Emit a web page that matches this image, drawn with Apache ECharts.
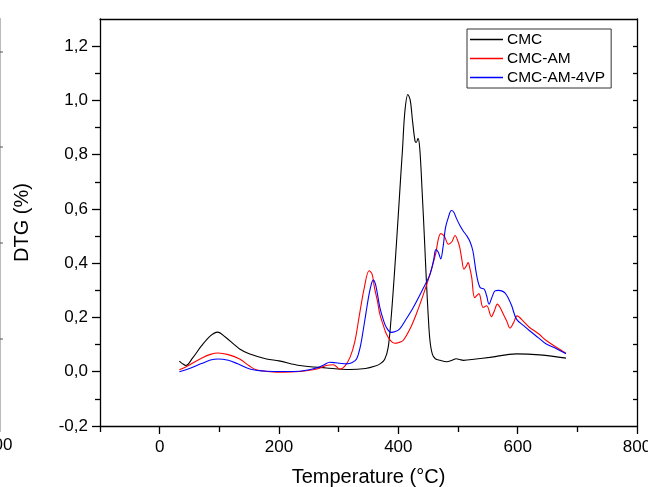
<!DOCTYPE html>
<html>
<head>
<meta charset="utf-8">
<script src="https://cdn.jsdelivr.net/npm/echarts@6/dist/echarts.min.js"></script>
<style>
html,body{margin:0;padding:0;background:#fff;overflow:hidden;}
#c{width:648px;height:487px;}
</style>
</head>
<body>
<div id="c"></div>
<script>
// ---- data ----
var seriesNames = ['CMC', 'CMC-AM', 'CMC-AM-4VP'];

var cmcTemp = [33, 38, 44, 55, 70, 85, 97, 110, 125, 134, 150, 179, 200, 235, 279, 318, 345, 360, 370, 377, 383, 388, 394, 400, 404, 407, 411, 416, 420, 424, 428, 430, 433, 436, 440, 444, 447, 450, 453, 457, 462, 470, 481, 490, 497, 503, 509, 530, 553, 598, 637, 681];
var cmcDtg  = [0.039, 0.03, 0.023, 0.05, 0.095, 0.132, 0.146, 0.128, 0.1, 0.084, 0.066, 0.047, 0.04, 0.023, 0.014, 0.008, 0.012, 0.02, 0.03, 0.045, 0.09, 0.2, 0.38, 0.58, 0.72, 0.82, 0.96, 1.022, 1.0, 0.92, 0.85, 0.845, 0.86, 0.82, 0.66, 0.48, 0.335, 0.21, 0.115, 0.065, 0.048, 0.042, 0.037, 0.042, 0.048, 0.045, 0.042, 0.047, 0.053, 0.066, 0.062, 0.05];

var amTemp = [33, 50, 70, 85, 98, 115, 134, 150, 162, 185, 207, 235, 263, 279, 291, 302, 310, 319, 327, 335, 343, 351, 356, 360, 365, 369, 375, 380, 387, 394, 401, 408, 420, 430, 442, 453, 462, 471, 477, 484, 490, 495, 500, 503, 506, 510, 514, 517, 520, 523, 528, 535, 542, 548, 556, 561, 566, 571, 576, 582, 587, 593, 599, 610, 620, 635, 648, 665, 681];
var amDtg  = [0.007, 0.025, 0.05, 0.064, 0.069, 0.063, 0.047, 0.022, 0.007, 0.0, -0.002, 0.001, 0.01, 0.023, 0.026, 0.01, 0.02, 0.053, 0.11, 0.212, 0.31, 0.372, 0.36, 0.31, 0.26, 0.212, 0.17, 0.139, 0.115, 0.105, 0.108, 0.115, 0.16, 0.212, 0.285, 0.359, 0.43, 0.509, 0.5, 0.47, 0.48, 0.502, 0.48, 0.457, 0.42, 0.378, 0.39, 0.402, 0.38, 0.347, 0.273, 0.288, 0.237, 0.243, 0.203, 0.225, 0.249, 0.235, 0.212, 0.185, 0.161, 0.18, 0.206, 0.185, 0.163, 0.14, 0.115, 0.09, 0.068];

var vpTemp = [33, 50, 70, 85, 98, 115, 130, 151, 179, 210, 235, 263, 275, 285, 295, 302, 313, 322, 330, 336, 341, 346, 351, 355, 358, 362, 369, 375, 380, 388, 395, 402, 412, 425, 440, 453, 459, 463, 467, 471, 475, 479, 484, 489, 493, 497, 503, 509, 515, 520, 525, 531, 537, 544, 548, 552, 557, 562, 568, 573, 579, 584, 590, 598, 610, 620, 635, 648, 665, 681];
var vpDtg  = [0.0, 0.012, 0.03, 0.043, 0.047, 0.042, 0.03, 0.01, 0.002, 0.001, 0.002, 0.014, 0.025, 0.035, 0.033, 0.031, 0.029, 0.033, 0.047, 0.09, 0.151, 0.22, 0.286, 0.325, 0.338, 0.32, 0.237, 0.19, 0.163, 0.145, 0.148, 0.157, 0.19, 0.237, 0.3, 0.359, 0.41, 0.45, 0.44, 0.416, 0.46, 0.53, 0.57, 0.594, 0.588, 0.567, 0.54, 0.518, 0.5, 0.48, 0.445, 0.359, 0.31, 0.304, 0.28, 0.249, 0.275, 0.298, 0.3, 0.298, 0.29, 0.273, 0.243, 0.194, 0.17, 0.151, 0.125, 0.102, 0.085, 0.066];

var xTickLabels = [0, 200, 400, 600, 800];
var xMinorTicks = [-100, 100, 300, 500, 700];
var yTickLabels = [-0.2, 0, 0.2, 0.4, 0.6, 0.8, 1.0, 1.2];
var yMinorTicks = [-0.1, 0.1, 0.3, 0.5, 0.7, 0.9, 1.1];
var yRightTicks = [-0.1, 0, 0.1, 0.2, 0.3, 0.4, 0.5, 0.6, 0.7, 0.8, 0.9, 1.0, 1.1, 1.2];

function pairs(t, v) { return t.map(function (x, i) { return [x, v[i]]; }); }

var FONT = '"Liberation Sans", Arial, sans-serif';
var chart = echarts.init(document.getElementById('c'), null, {renderer: 'canvas'});

var axisLineStyle = {color: '#000', width: 1.3};
function commaFmt(v) { return (Math.round(v * 10) / 10).toFixed(1).replace('.', ','); }

var option = {
  animation: false,
  backgroundColor: '#fff',
  grid: {left: 100, right: 11, top: 19, bottom: 61, containLabel: false, outerBoundsMode: 'none'},
  legend: {
    orient: 'vertical',
    left: 467, top: 29,
    icon: 'rect',
    itemWidth: 33, itemHeight: 1.3, itemGap: 0,
    padding: [1, 6, 1, 3],
    borderColor: '#333', borderWidth: 1,
    textStyle: {fontFamily: FONT, fontSize: 15.5, color: '#000', lineHeight: 19, padding: [0, 0, 0, -1]},
    data: seriesNames
  },
  xAxis: [
    {type: 'value', min: -100, max: 800, position: 'bottom',
      name: 'Temperature (°C)', nameLocation: 'middle', nameGap: 41,
      nameTextStyle: {fontFamily: FONT, fontSize: 20, color: '#000'},
      axisLine: {show: true, onZero: false, lineStyle: axisLineStyle},
      axisTick: {show: true, length: 8, lineStyle: axisLineStyle, customValues: xTickLabels},
      axisLabel: {show: true, margin: 13, fontFamily: FONT, fontSize: 17, color: '#000', customValues: xTickLabels},
      splitLine: {show: false}},
    {type: 'value', min: -100, max: 800, position: 'bottom', gridIndex: 0,
      axisLine: {show: false, onZero: false},
      axisTick: {show: true, length: 6, lineStyle: axisLineStyle, customValues: xMinorTicks},
      axisLabel: {show: false}, splitLine: {show: false}},
    {type: 'value', min: -100, max: 800, position: 'top', gridIndex: 0,
      axisLine: {show: true, onZero: false, lineStyle: axisLineStyle},
      axisTick: {show: false}, axisLabel: {show: false}, splitLine: {show: false}}
  ],
  yAxis: [
    {type: 'value', min: -0.2, max: 1.3, position: 'left',
      name: 'DTG (%)', nameLocation: 'middle', nameGap: 68, nameRotate: 90,
      nameTextStyle: {fontFamily: FONT, fontSize: 20, color: '#000'},
      axisLine: {show: true, onZero: false, lineStyle: axisLineStyle},
      axisTick: {show: true, length: 8, lineStyle: axisLineStyle, customValues: yTickLabels},
      axisLabel: {show: true, margin: 12, fontFamily: FONT, fontSize: 17, color: '#000', formatter: commaFmt, customValues: yTickLabels},
      splitLine: {show: false}},
    {type: 'value', min: -0.2, max: 1.3, position: 'left',
      axisLine: {show: false, onZero: false},
      axisTick: {show: true, length: 5, lineStyle: axisLineStyle, customValues: yMinorTicks},
      axisLabel: {show: false}, splitLine: {show: false}},
    {type: 'value', min: -0.2, max: 1.3, position: 'right',
      axisLine: {show: true, onZero: false, lineStyle: axisLineStyle},
      axisTick: {show: true, inside: true, length: 4, lineStyle: axisLineStyle, customValues: yRightTicks},
      axisLabel: {show: false}, splitLine: {show: false}}
  ],
  series: [
    {name: seriesNames[0], type: 'line', data: pairs(cmcTemp, cmcDtg), smooth: 0.35, symbol: 'none',
      lineStyle: {color: '#000', width: 1.1}, itemStyle: {color: '#000'}},
    {name: seriesNames[1], type: 'line', data: pairs(amTemp, amDtg), smooth: 0.35, symbol: 'none',
      lineStyle: {color: '#ff0000', width: 1.1}, itemStyle: {color: '#ff0000'}},
    {name: seriesNames[2], type: 'line', data: pairs(vpTemp, vpDtg), smooth: 0.35, symbol: 'none',
      lineStyle: {color: '#0000ff', width: 1.1}, itemStyle: {color: '#0000ff'}}
  ],
  graphic: [
    {type: 'line', shape: {x1: 0.5, y1: 18, x2: 0.5, y2: 432}, style: {stroke: '#bbb', lineWidth: 1}},
    {type: 'line', shape: {x1: 0, y1: 52, x2: 3, y2: 52}, style: {stroke: '#555', lineWidth: 1}},
    {type: 'line', shape: {x1: 0, y1: 147, x2: 3, y2: 147}, style: {stroke: '#555', lineWidth: 1}},
    {type: 'line', shape: {x1: 0, y1: 243, x2: 3, y2: 243}, style: {stroke: '#555', lineWidth: 1}},
    {type: 'line', shape: {x1: 0, y1: 339, x2: 3, y2: 339}, style: {stroke: '#555', lineWidth: 1}},
    {type: 'text', left: -16, top: 437, style: {text: '800', font: '17px "Liberation Sans", Arial, sans-serif', fill: '#000'}}
  ]
};
chart.setOption(option);
</script>
</body>
</html>
